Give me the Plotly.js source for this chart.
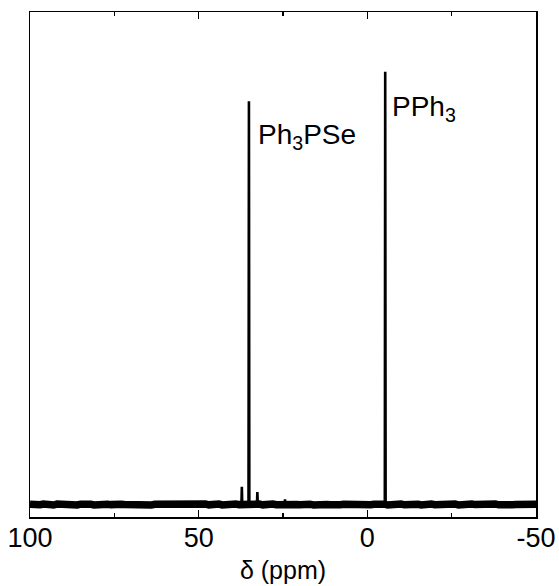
<!DOCTYPE html>
<html>
<head>
<meta charset="utf-8">
<script src="https://cdn.plot.ly/plotly-3.0.1.min.js"></script>
<style>html,body{margin:0;padding:0;background:#fff;}</style>
</head>
<body>
<div id="chart" style="width:559px;height:586px;"></div>
<script>
// Chemical shift grid for baseline (ppm) and baseline noise (relative intensity)
const baseX = [100,99,98,97,96,95,94,93,92,91,90,89,88,87,86,85,84,83,82,81,80,79,78,77,76,75,74,73,72,71,70,69,68,67,66,65,64,63,62,61,60,59,58,57,56,55,54,53,52,51,50,49,48,47,46,45,44,43,42,41,40,39,38,37,36,35,34,33,32,31,30,29,28,27,26,25,24,23,22,21,20,19,18,17,16,15,14,13,12,11,10,9,8,7,6,5,4,3,2,1,0,-1,-2,-3,-4,-5,-6,-7,-8,-9,-10,-11,-12,-13,-14,-15,-16,-17,-18,-19,-20,-21,-22,-23,-24,-25,-26,-27,-28,-29,-30,-31,-32,-33,-34,-35,-36,-37,-38,-39,-40,-41,-42,-43,-44,-45,-46,-47,-48,-49,-50];
const baseY = [0.05,-0.1,0.08,-0.05,0.12,-0.02,0.06,-0.12,0.1,0.0,
  -0.08,0.14,-0.05,0.03,-0.1,0.08,0.16,-0.05,0.05,-0.1,
  0.03,0.1,-0.08,0.05,-0.03,0.12,-0.1,0.05,0.0,-0.05,
  0.1,-0.08,0.05,0.14,-0.03,0.08,-0.1,0.03,0.05,-0.05,
  0.12,-0.08,0.03,0.1,-0.05,0.05,-0.12,0.08,0.0,0.1,
  -0.05,0.03,0.14,-0.08,0.05,-0.03,0.1,-0.1,0.05,0.03,
  -0.05,0.12,-0.03,0.05,-0.1,0.08,0.03,-0.05,0.1,-0.08,
  0.05,0.0,0.12,-0.05,0.03,-0.03,0.08,-0.1,0.06,0.02,
  -0.06,0.1,-0.04,0.07,-0.09,0.04,0.12,-0.06,0.02,-0.08,
  0.06,0.09,-0.07,0.03,-0.02,0.11,-0.09,0.04,0.01,-0.06,
  0.09,-0.07,0.04,0.13,-0.02,0.07,-0.09,0.02,0.06,-0.04,
  0.11,-0.07,0.02,0.09,-0.04,0.06,-0.11,0.07,0.01,0.09,
  -0.04,0.02,0.13,-0.07,0.04,-0.02,0.09,-0.09,0.06,0.02,
  -0.04,0.11,-0.02,0.04,-0.09,0.07,0.02,-0.04,0.09,-0.07,
  0.04,0.01,0.11,-0.04,0.02,-0.02,0.05,-0.08,0.04,0.0,0.03];

// Peaks: position (ppm) and height (relative intensity, PPh3 = 100)
const peakPos = [37.2, 35.1, 32.6, 24.4, -5.3];
const peakHeight = [4.1, 93.2, 2.85, 1.2, 100];

// Labels
const labelText = ["Ph<sub>3</sub>PSe", "PPh<sub>3</sub>"];
const labelX = [33.0, -6.6];
const labelY = [85.0, 91.6];

const tickVals = [100, 50, 0, -50];
const tickText = ["100", "50", "0", "-50"];
const minorVals = [75, 25, -25];

// build peak line segments
const px = [], py = [];
const hw = 0.12;
for (let i = 0; i < peakPos.length; i++) {
  px.push(peakPos[i] + hw, peakPos[i], peakPos[i] - hw, null);
  py.push(0, peakHeight[i], 0, null);
}

const traces = [
  {x: baseX, y: baseY, mode: 'lines', line: {color: '#000', width: 7.5}, hoverinfo: 'skip'},
  {x: px, y: py, mode: 'lines', line: {color: '#000', width: 2.6}, connectgaps: false, hoverinfo: 'skip'}
];

const font = {family: '"Liberation Sans", Arial, Helvetica, sans-serif', color: '#000'};

const layout = {
  width: 559, height: 586,
  margin: {l: 30, r: 23, t: 12, b: 69},
  paper_bgcolor: '#fff', plot_bgcolor: '#fff',
  showlegend: false,
  font: font,
  xaxis: {
    range: [100, -50],
    tickvals: tickVals, ticktext: tickText,
    ticks: 'inside', ticklen: 7, tickwidth: 1.5, tickcolor: '#000',
    minor: {tickvals: minorVals, ticks: 'inside', ticklen: 4, tickwidth: 1.2, tickcolor: '#000'},
    showline: true, linewidth: 1.5, linecolor: '#000', mirror: 'ticks',
    showgrid: false, zeroline: false,
    ticklabelstandoff: -4,
    tickfont: {size: 27, family: font.family, color: '#000'},
    title: {text: 'δ (ppm)', font: {size: 25, family: font.family, color: '#000'}, standoff: 9}
  },
  yaxis: {
    range: [-2.89, 113.8],
    showline: true, linewidth: 1.5, linecolor: '#000', mirror: true,
    ticks: '', showticklabels: false, showgrid: false, zeroline: false
  },
  annotations: labelText.map((t, i) => ({
    x: labelX[i], y: labelY[i], xref: 'x', yref: 'y', text: t, showarrow: false,
    xanchor: 'left', yanchor: 'middle',
    font: {size: 28, family: font.family, color: '#000'}
  }))
};

Plotly.newPlot('chart', traces, layout, {displayModeBar: false, staticPlot: true});
</script>
</body>
</html>
